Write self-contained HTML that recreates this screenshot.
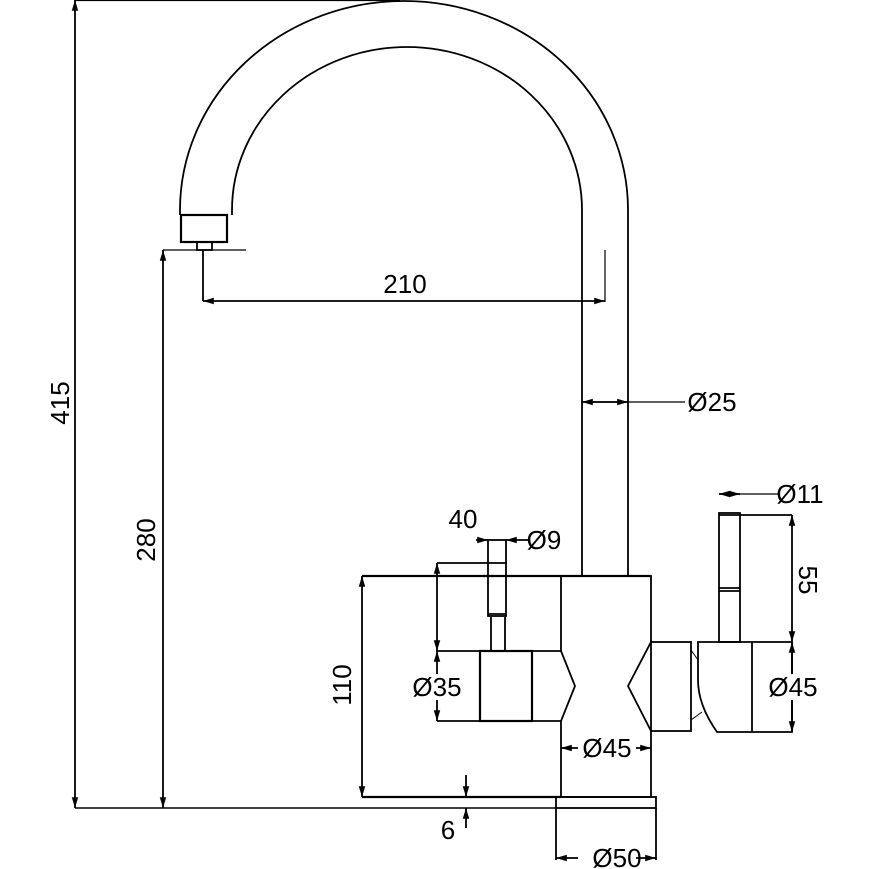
<!DOCTYPE html>
<html><head><style>body{margin:0;background:#fff}svg{display:block}text{font-family:"Liberation Sans",Arial,sans-serif;font-size:26px;fill:#000}</style></head>
<body>
<svg width="869" height="869" viewBox="0 0 869 869" xmlns="http://www.w3.org/2000/svg">
<defs><marker id="a" viewBox="0 0 10 10" refX="10" refY="5" markerWidth="6" markerHeight="6" orient="auto-start-reverse"><path d="M0,2 L10,5 L0,8z" fill="#000"/></marker></defs>
<g fill="none" stroke="#000" stroke-width="1.8">
<path d="M180,215 L180,210 A224,209 0 0 1 628,210 L628,576"/>
<path d="M232,215 L232,210 A175,163 0 0 1 582,210 L582,576"/>
<rect x="181" y="215" width="46" height="27" stroke-width="2.2"/>
<rect x="197" y="242" width="15" height="8"/>
<line x1="163" y1="250" x2="246" y2="250" stroke-width="1.2"/>
<line x1="75" y1="0.5" x2="400" y2="0.5" stroke-width="1.2"/>
<line x1="75" y1="0" x2="75" y2="808" marker-start="url(#a)" marker-end="url(#a)"/>
<line x1="163" y1="250" x2="163" y2="808" marker-start="url(#a)" marker-end="url(#a)"/>
<line x1="203" y1="250" x2="203" y2="301"/>
<line x1="605" y1="250" x2="605" y2="302" stroke-width="1.2"/>
<line x1="203" y1="301" x2="605" y2="301" marker-start="url(#a)" marker-end="url(#a)"/>
<line x1="582" y1="402" x2="685" y2="402" stroke-width="1.2"/>
<line x1="582" y1="402" x2="628" y2="402" marker-start="url(#a)" marker-end="url(#a)"/>
<line x1="362" y1="576" x2="651" y2="576" stroke-width="2.2"/>
<line x1="362" y1="797" x2="561" y2="797" stroke-width="2.2"/>
<line x1="362" y1="576" x2="362" y2="797" marker-start="url(#a)" marker-end="url(#a)"/>
<path d="M561,576 L561,651 L575,686 L561,721 L561,797 L651,797 L651,731 L628,686 L651,642 L651,576 Z"/>
<rect x="556" y="797" width="100" height="11"/>
<line x1="75" y1="808" x2="556" y2="808" stroke-width="1.4"/>
<rect x="480" y="651" width="52" height="70" stroke-width="2.2"/>
<line x1="437" y1="651" x2="561" y2="651"/>
<line x1="437" y1="721" x2="561" y2="721"/>
<line x1="437" y1="563" x2="437" y2="651" marker-start="url(#a)" marker-end="url(#a)"/>
<line x1="437" y1="651" x2="437" y2="721" marker-start="url(#a)" marker-end="url(#a)"/>
<line x1="437" y1="563" x2="507" y2="563"/>
<rect x="488" y="540" width="18" height="76"/>
<line x1="488" y1="614" x2="506" y2="614"/>
<line x1="491" y1="617" x2="491" y2="651"/><line x1="505" y1="617" x2="505" y2="651"/>
<line x1="476" y1="540" x2="488" y2="540" marker-end="url(#a)"/>
<line x1="528" y1="540" x2="506" y2="540" marker-end="url(#a)"/>
<rect x="651" y="642" width="40" height="89"/>
<path d="M698,642 L792,642 L792,732 L717,732 Q698,705 698,680 Z"/>
<line x1="752" y1="642" x2="752" y2="732"/>
<line x1="691" y1="650" x2="698" y2="660" stroke-width="1"/><line x1="691" y1="720" x2="702" y2="712" stroke-width="1"/>
<rect x="719" y="513" width="21" height="129"/>
<line x1="719" y1="515" x2="740" y2="515"/>
<line x1="719" y1="588" x2="740" y2="588"/><line x1="719" y1="591" x2="740" y2="591"/>
<line x1="719" y1="494" x2="780" y2="494" stroke-width="1.2"/>
<line x1="719" y1="494" x2="740" y2="494" marker-start="url(#a)" marker-end="url(#a)"/>
<line x1="740" y1="515" x2="792" y2="515"/>
<line x1="792" y1="515" x2="792" y2="642" marker-start="url(#a)" marker-end="url(#a)"/>
<line x1="792" y1="642" x2="792" y2="732" marker-start="url(#a)" marker-end="url(#a)"/>
<line x1="561" y1="748" x2="651" y2="748" marker-start="url(#a)" marker-end="url(#a)"/>
<line x1="556" y1="808" x2="556" y2="860"/><line x1="656" y1="808" x2="656" y2="860"/>
<line x1="556" y1="858" x2="656" y2="858" marker-start="url(#a)" marker-end="url(#a)"/>
<line x1="466" y1="775" x2="466" y2="797" marker-end="url(#a)"/>
<line x1="466" y1="828" x2="466" y2="808" marker-end="url(#a)"/>
</g>
<g>
<rect x="578" y="735" width="58" height="26" fill="#fff"/>
<rect x="578" y="845" width="58" height="26" fill="#fff"/>
<rect x="410" y="674" width="56" height="26" fill="#fff"/>
<rect x="766" y="674" width="56" height="26" fill="#fff"/>
<text x="405" y="293" text-anchor="middle">210</text>
<text x="712" y="411" text-anchor="middle">Ø25</text>
<text x="800" y="503" text-anchor="middle">Ø11</text>
<text x="463" y="528" text-anchor="middle">40</text>
<text x="544" y="549" text-anchor="middle">Ø9</text>
<text x="437" y="696" text-anchor="middle">Ø35</text>
<text x="793" y="696" text-anchor="middle">Ø45</text>
<text x="607" y="757" text-anchor="middle">Ø45</text>
<text x="617" y="867" text-anchor="middle">Ø50</text>
<text x="448" y="839" text-anchor="middle">6</text>
<text transform="translate(69,403) rotate(-90)" text-anchor="middle">415</text>
<text transform="translate(155,540) rotate(-90)" text-anchor="middle">280</text>
<text transform="translate(351,685) rotate(-90)" text-anchor="middle">110</text>
<text transform="translate(799,580) rotate(90)" text-anchor="middle">55</text>
</g>
</svg>
</body></html>
